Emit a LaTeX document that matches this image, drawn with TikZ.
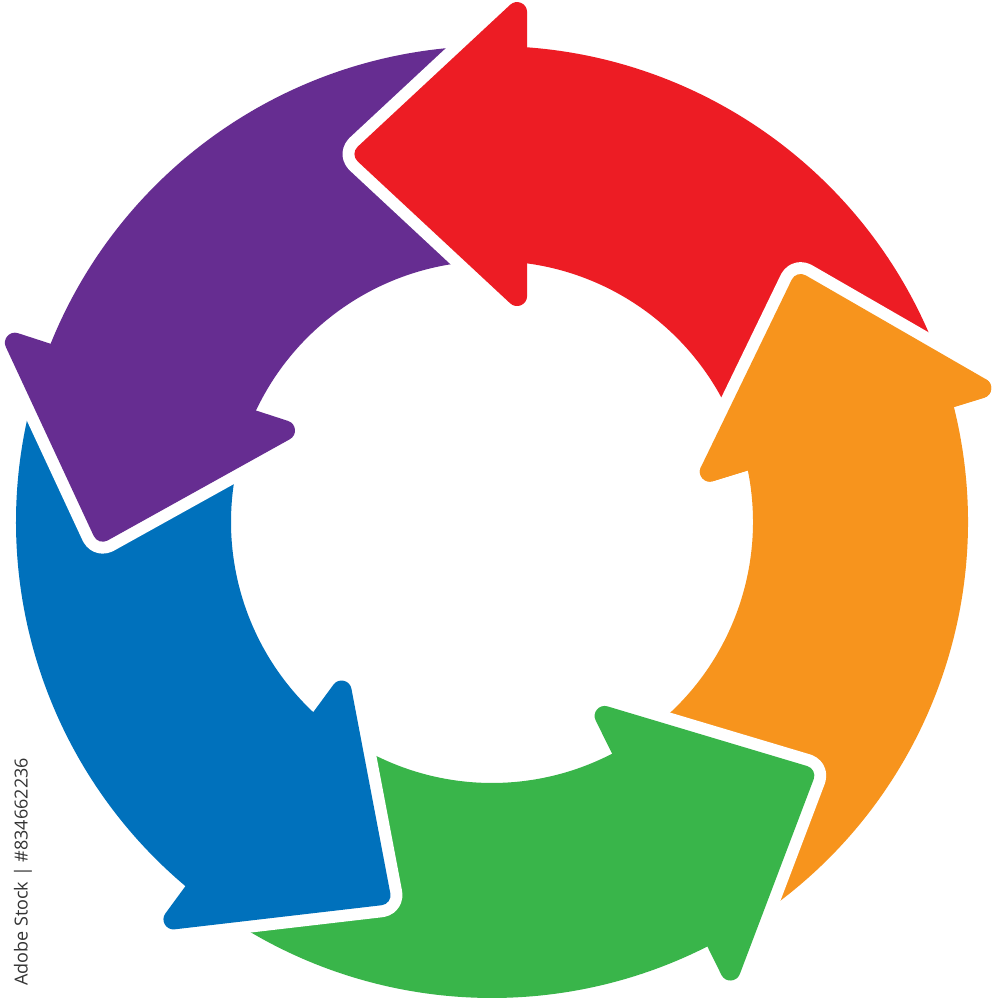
\documentclass[tikz,border=0pt]{standalone}
\usepackage{fontspec}
\usetikzlibrary{calc}
\newfontfamily\stockfont{Open Sans}
\definecolor{cOrange}{HTML}{F7941D}
\definecolor{cRed}{HTML}{ED1C24}
\definecolor{cPurple}{HTML}{662D91}
\definecolor{cBlue}{HTML}{0071BC}
\definecolor{cGreen}{HTML}{39B54A}
\definecolor{cText}{HTML}{333333}
\tikzset{
  gapline/.style={draw=white, line width=24pt, line join=round},
}
% corners of a head: inner barb hA, outer barb hB, tip hT
\newcommand\headgeom[3]{%
  \begin{scope}[shift={(#1:#2)},rotate=#3]
    \coordinate (hA) at (-165,-10);
    \coordinate (hB) at (165,-10);
    \coordinate (hT) at (0,167.3);
  \end{scope}}
% head outline with rounded corners
\newcommand\headpath{($(hA)!0.5!(hB)$) -- ($(hB)!23pt!(hA)$)
  .. controls ($(hB)!14.3pt!(hA)$) and ($(hB)!14.3pt!(hT)$) .. ($(hB)!23pt!(hT)$)
  -- ($(hT)!10.7pt!(hB)$)
  .. controls ($(hT)!4.9pt!(hB)$) and ($(hT)!4.9pt!(hA)$) .. ($(hT)!10.7pt!(hA)$)
  -- ($(hA)!23pt!(hT)$)
  .. controls ($(hA)!14.3pt!(hT)$) and ($(hA)!14.3pt!(hB)$) .. ($(hA)!23pt!(hB)$) -- cycle}
% #1 colour, #2 tail angle, #3 body end angle,
% #4 head centre angle, #5 head centre radius, #6 head base direction
\newcommand\ringarrow[6]{%
  \headgeom{#4}{#5}{#6}
  \path[gapline] (#2:261) -- (#2:476) arc[start angle=#2,end angle=#3,radius=476pt]
     -- (#3:261) arc[start angle=#3,end angle=#2,radius=261pt] -- cycle;
  \path[gapline] \headpath;
  \fill[#1] (#2:261) -- (#2:476) arc[start angle=#2,end angle=#3,radius=476pt]
     -- (#3:261) arc[start angle=#3,end angle=#2,radius=261pt] -- cycle;
  \fill[#1] \headpath;
}
\begin{document}
\begin{tikzpicture}[x=1pt,y=1pt]
\useasboundingbox (-492,-478) rectangle (502,522);
% orange (right)
\ringarrow{cOrange}{-57.35}{17.1}{14.6}{365.4}{17.1}
% green (bottom)
\ringarrow{cGreen}{-125.65}{-58.85}{-61.35}{366.1}{-63.7}
% blue (lower left)
\ringarrow{cBlue}{162.4}{232.85}{-129.65}{367.5}{-126.3}
% purple (upper left)
\ringarrow{cPurple}{90.1}{160.9}{158.4}{367.9}{162.0}
% red (top)
\ringarrow{cRed}{18.6}{88.6}{86.1}{368.8}{90.0}
% orange head again, over the red tail: outline of its two front edges, then the head
\headgeom{14.6}{365.4}{17.1}
\path[gapline] ($(hA)!23pt!(hT)$) -- ($(hT)!10.7pt!(hA)$)
  .. controls ($(hT)!4.9pt!(hA)$) and ($(hT)!4.9pt!(hB)$) .. ($(hT)!10.7pt!(hB)$)
  -- ($(hB)!23pt!(hT)$);
\fill[cOrange] \headpath;
\node[rotate=90, text=cText, inner sep=0pt, font=\stockfont\fontsize{18}{18}\selectfont] (stockid) at (-469,-350) {Adobe Stock | \#834662236};
\end{tikzpicture}
\end{document}
